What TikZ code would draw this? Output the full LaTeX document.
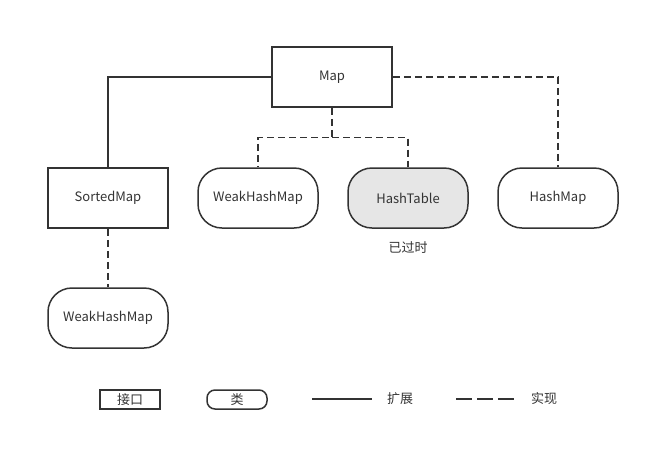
\documentclass[tikz,border=0pt]{standalone}
\usepackage{fontspec}
\setmainfont{Noto Sans CJK SC}
\usepackage{xcolor}
\definecolor{linegray}{HTML}{333333}
\definecolor{oldfill}{HTML}{E6E6E6}

\begin{document}
\begin{tikzpicture}[x=1pt, y=-1pt, inner sep=0pt, line width=1.5pt, draw=linegray]
		\tikzstyle{every node}=[align=center, font=\fontsize{13}{15}\selectfont, text=linegray]
		\tikzstyle{iface}=[draw=linegray, minimum width=120pt, minimum height=60pt]
		\tikzstyle{klass}=[draw=linegray, rounded corners=24pt, minimum width=120pt, minimum height=60pt]
		\tikzstyle{ext}=[draw=linegray]
		\tikzstyle{impl}=[draw=linegray, dash pattern=on 7pt off 4pt]
			\useasboundingbox (0, 0) rectangle (650, 451);

			\node[iface] (map) at (332, 77) {Map};
			\node[iface] (sorted) at (108, 198) {SortedMap};
			\node[klass] (weak) at (258, 198) {WeakHashMap};
			\node[klass, fill=oldfill] (table) at (408, 198) {HashTable};
			\node[klass] (hashmap) at (558, 198) {HashMap};
			\node[klass] (weaksub) at (108, 318) {WeakHashMap};
			\node (old) at (408, 248) {已过时};

			\coordinate (fork) at (332, 137.5);
			\draw[ext] (map.west) -| (sorted.north);
			\draw[impl] (map.east) -| (hashmap.north);
			\draw[impl] (map.south) -- (fork) -| (weak.north);
			\draw[impl] (fork) -| (table.north);
			\draw[impl] (sorted.south) -- (weaksub.north);

			% legend
			\node[iface, minimum width=60pt, minimum height=19pt] (keyiface) at (130, 399.5) {接口};
			\node[klass, rounded corners=8pt, minimum width=60pt, minimum height=19pt] (keyklass) at (237, 399.5) {类};
			\node (keyext) at (400, 399) {扩展};
			\node (keyimpl) at (544, 399) {实现};
			\coordinate (extA) at (312, 399);
			\coordinate (extB) at (372, 399);
			\coordinate (implA) at (456, 399);
			\coordinate (implB) at (516, 399);
			\draw[ext, line width=2.4pt] (extA) -- (extB);
			\draw[impl, line width=2.4pt, dash pattern=on 16pt off 5pt] (implA) -- (implB);
		\end{tikzpicture}
\end{document}
